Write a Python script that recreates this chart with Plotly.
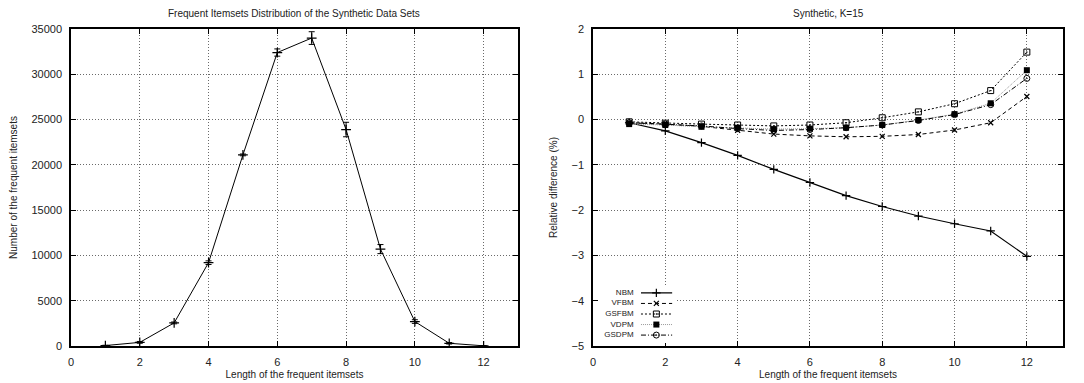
import plotly.graph_objects as go

# Left chart data
lengths = [1, 2, 3, 4, 5, 6, 7, 8, 9, 10, 11, 12]
counts = [50, 400, 2550, 9200, 21100, 32400, 34000, 23900, 10700, 2700, 300, 20]
count_err = [30, 100, 100, 200, 100, 400, 700, 800, 500, 200, 80, 10]

# Right chart data
nbm = [-0.07, -0.25, -0.51, -0.79, -1.10, -1.39, -1.68, -1.92, -2.13, -2.30, -2.46, -3.02]
vfbm = [-0.07, -0.10, -0.15, -0.24, -0.32, -0.36, -0.38, -0.37, -0.33, -0.23, -0.07, 0.51]
gsfbm = [-0.05, -0.08, -0.10, -0.12, -0.14, -0.12, -0.07, 0.04, 0.17, 0.35, 0.64, 1.49]
vdpm = [-0.10, -0.12, -0.16, -0.18, -0.21, -0.20, -0.18, -0.12, -0.01, 0.12, 0.36, 1.09]
gsdpm = [-0.07, -0.10, -0.14, -0.20, -0.24, -0.22, -0.18, -0.12, -0.02, 0.11, 0.33, 0.91]
series_names = ["NBM", "VFBM", "GSFBM", "VDPM", "GSDPM"]

x_ticks = [0, 2, 4, 6, 8, 10, 12]

FONT = "Liberation Sans, Arial, sans-serif"
TXT = "#222222"
W, H = 1084, 383

# legend layout constants (fractions of the legend box)
LEG_TEXT_X = 0.45
LEG_LINE = [0.545, 0.95]
LEG_MARK_X = 0.745
LEG_YRANGE = [4.75, -0.75]

fig = go.Figure()

fig.add_trace(go.Scatter(
    x=lengths, y=counts, mode="lines+markers",
    line=dict(color="black", width=1),
    marker=dict(symbol="cross-thin", size=7, line=dict(color="black", width=1.2)),
    error_y=dict(type="data", array=count_err, visible=True, color="black", thickness=1, width=3),
    showlegend=False, xaxis="x", yaxis="y",
))

styles = [
    (dict(color="black", width=1.2, dash="solid"), dict(symbol="cross-thin", size=6, color="black", line=dict(color="black", width=1.2))),
    (dict(color="black", width=1, dash="4px,3px"), dict(symbol="x-thin", size=5, color="black", line=dict(color="black", width=1.2))),
    (dict(color="black", width=1, dash="2px,2px"), dict(symbol="square-open-dot", size=6, color="black", line=dict(color="black", width=1))),
    (dict(color="#9a9a9a", width=1, dash="1px,1px"), dict(symbol="square", size=6, color="black", line=dict(color="black", width=0))),
    (dict(color="black", width=1, dash="5px,2px,1px,2px"), dict(symbol="circle-open-dot", size=6, color="black", line=dict(color="black", width=1))),
]
all_vals = [nbm, vfbm, gsfbm, vdpm, gsdpm]
for name, vals, (ln, mk) in zip(series_names, all_vals, styles):
    fig.add_trace(go.Scatter(
        x=lengths, y=vals, mode="lines+markers", name=name,
        line=ln, marker=mk, xaxis="x2", yaxis="y2", showlegend=False,
    ))

# white box behind the custom legend (covers grid lines like gnuplot's key)
fig.add_trace(go.Scatter(x=[0, 1, 1, 0], y=[LEG_YRANGE[1], LEG_YRANGE[1], LEG_YRANGE[0], LEG_YRANGE[0]],
                         mode="lines", fill="toself", fillcolor="white", line=dict(width=0, color="white"),
                         xaxis="x3", yaxis="y3", showlegend=False, hoverinfo="skip"))

# custom gnuplot-style legend (text on the left, sample on the right)
for i, (name, (ln, mk)) in enumerate(zip(series_names, styles)):
    fig.add_trace(go.Scatter(x=LEG_LINE, y=[i, i], mode="lines", line=ln,
                             xaxis="x3", yaxis="y3", showlegend=False, hoverinfo="skip"))
    fig.add_trace(go.Scatter(x=[LEG_MARK_X], y=[i], mode="markers", marker=mk,
                             xaxis="x3", yaxis="y3", showlegend=False, hoverinfo="skip"))
    fig.add_trace(go.Scatter(x=[LEG_TEXT_X], y=[i], mode="text", text=[name],
                             textposition="middle left",
                             textfont=dict(family=FONT, size=8, color=TXT),
                             xaxis="x3", yaxis="y3", showlegend=False, hoverinfo="skip"))

px = lambda p: p / W
py = lambda p: 1 - p / H

axis_common = dict(
    showline=True, linecolor="black", linewidth=1.5, mirror="allticks",
    ticks="inside", ticklen=5, tickcolor="black",
    showgrid=True, gridcolor="#6a6a6a", griddash="1px,2px", gridwidth=1,
    zeroline=False, automargin=False,
    tickfont=dict(family=FONT, size=11, color=TXT),
)
hidden = dict(visible=False, showgrid=False, zeroline=False, fixedrange=True, automargin=False)

fig.update_layout(
    width=W, height=H,
    margin=dict(l=0, r=0, t=0, b=0, autoexpand=False),
    paper_bgcolor="white", plot_bgcolor="white",
    font=dict(family=FONT, color=TXT),
    showlegend=False,
    xaxis=dict(domain=[px(71), px(518)], range=[0, 13], tickvals=x_ticks, anchor="y",
               ticklabelstandoff=5,
               title=dict(text="Length of the frequent itemsets", font=dict(size=10), standoff=4), **axis_common),
    yaxis=dict(domain=[py(346), py(29)], range=[0, 35000], dtick=5000, tickformat="d", anchor="x",
               ticklabelstandoff=5,
               title=dict(text="Number of the frequent itemsets", font=dict(size=10), standoff=12), **axis_common),
    xaxis2=dict(domain=[px(593), px(1063)], range=[0, 13], tickvals=x_ticks, anchor="y2",
                ticklabelstandoff=5,
                title=dict(text="Length of the frequent itemsets", font=dict(size=10), standoff=4), **axis_common),
    yaxis2=dict(domain=[py(346), py(29)], range=[-5, 2], dtick=1, anchor="x2",
                ticklabelstandoff=5,
                title=dict(text="Relative difference (%)", font=dict(size=10), standoff=12), **axis_common),
    xaxis3=dict(domain=[px(599), px(676)], range=[0, 1], anchor="y3", **hidden),
    yaxis3=dict(domain=[py(343), py(285)], range=LEG_YRANGE, anchor="x3", **hidden),
    annotations=[
        dict(text="Frequent Itemsets Distribution of the Synthetic Data Sets", x=px(294), y=py(14),
             xanchor="center", yanchor="middle",
             xref="paper", yref="paper", showarrow=False, font=dict(size=10, family=FONT, color=TXT)),
        dict(text="Synthetic, K=15", x=px(828), y=py(14),
             xanchor="center", yanchor="middle",
             xref="paper", yref="paper", showarrow=False, font=dict(size=10, family=FONT, color=TXT)),
    ],
)

fig.write_html("out.html")
